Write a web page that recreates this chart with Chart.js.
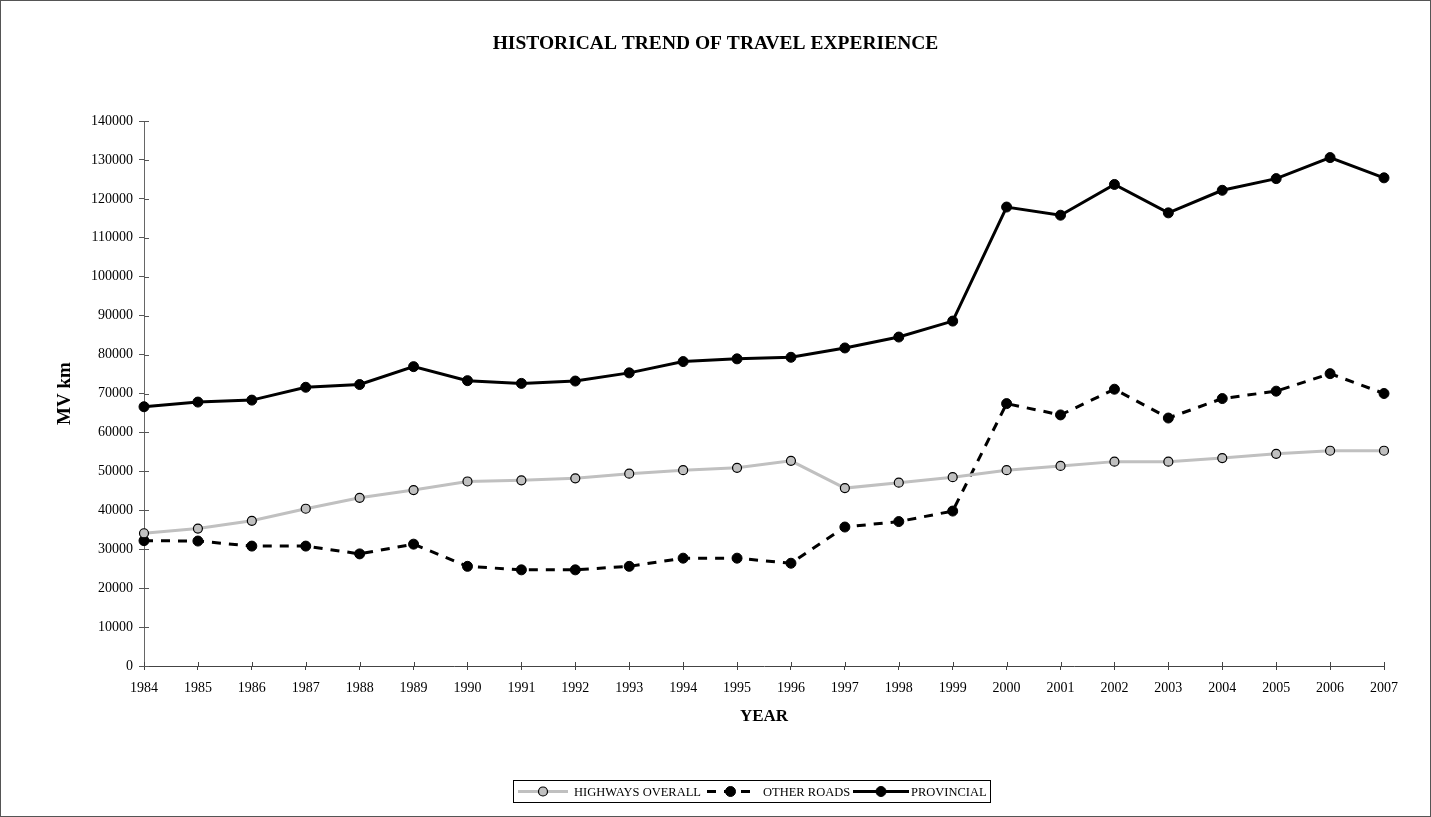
<!DOCTYPE html>
<html>
<head>
<meta charset="utf-8">
<title>Historical trend of travel experience</title>
<script src="https://cdn.jsdelivr.net/npm/chart.js@4.4.1/dist/chart.umd.min.js"></script>
<style>
  html, body { margin: 0; padding: 0; background: #fff; }
  canvas { display: block; }
</style>
</head>
<body>
<canvas id="travelChart" width="1431" height="817"></canvas>
<script>
// values (MV km)
const years = ['1984', '1985', '1986', '1987', '1988', '1989', '1990', '1991', '1992', '1993', '1994', '1995',
  '1996', '1997', '1998', '1999', '2000', '2001', '2002', '2003', '2004', '2005', '2006', '2007'];
const highwaysOverall = [34100, 35300, 37300, 40400, 43200, 45200, 47400, 47700, 48200, 49400, 50300, 50900,
  52700, 45700, 47100, 48500, 50300, 51400, 52500, 52500, 53400, 54500, 55300, 55300];
const otherRoads = [32200, 32100, 30800, 30800, 28800, 31300, 25600, 24700, 24700, 25600, 27700, 27700,
  26400, 35700, 37100, 39800, 67400, 64500, 71100, 63700, 68700, 70600, 75100, 70000];
const provincial = [66600, 67800, 68300, 71600, 72300, 76900, 73300, 72600, 73200, 75300, 78200, 78900,
  79300, 81700, 84500, 88600, 117900, 115800, 123700, 116400, 122200, 125200, 130600, 125400];
const yTicks = [0, 10000, 20000, 30000, 40000, 50000, 60000, 70000, 80000, 90000, 100000, 110000, 120000, 130000, 140000];

const serif = "'Liberation Serif', 'Times New Roman', serif";

// tick marks in the reference cross the axis: draw the inner half
const innerTicks = {
  id: 'innerTicks',
  afterDraw(chart) {
    const { ctx, scales: { x, y } } = chart;
    ctx.save();
    ctx.lineWidth = 1;
    ctx.strokeStyle = '#444';
    ctx.beginPath();
    x.ticks.forEach((t, i) => {
      const px = Math.round(x.getPixelForTick(i)) + 0.5;
      ctx.moveTo(px, x.top);
      ctx.lineTo(px, x.top - 4);
    });
    ctx.stroke();
    ctx.strokeStyle = '#555';
    ctx.beginPath();
    y.ticks.forEach((t, i) => {
      const py = Math.round(y.getPixelForTick(i)) + 0.5;
      ctx.moveTo(y.right, py);
      ctx.lineTo(y.right + 5, py);
    });
    ctx.stroke();
    ctx.restore();
  }
};

// frame round the whole picture + legend box at the bottom
const frameAndLegend = {
  id: 'frameAndLegend',
  afterDraw(chart) {
    const ctx = chart.ctx;
    ctx.save();
    ctx.strokeStyle = '#555';
    ctx.lineWidth = 1;
    ctx.strokeRect(0.5, 0.5, chart.width - 1, chart.height - 1);

    // legend
    const boxX = 513, boxY = 780, boxW = 477, boxH = 22;
    ctx.strokeStyle = '#000';
    ctx.strokeRect(boxX + 0.5, boxY + 0.5, boxW, boxH);
    const midY = boxY + boxH / 2 + 0.5;
    const items = [
      { lineFrom: 518, lineTo: 568, textX: 574 },
      { lineFrom: 707, lineTo: 754, textX: 763 },
      { lineFrom: 853, lineTo: 909, textX: 911 }
    ];
    ctx.font = '12.5px ' + serif;
    ctx.textBaseline = 'middle';
    ctx.textAlign = 'left';
    chart.data.datasets.forEach((ds, i) => {
      const it = items[i];
      ctx.beginPath();
      ctx.setLineDash(ds.borderDash || []);
      ctx.strokeStyle = ds.borderColor;
      ctx.lineWidth = ds.borderWidth;
      ctx.moveTo(it.lineFrom, midY);
      ctx.lineTo(it.lineTo, midY);
      ctx.stroke();
      ctx.setLineDash([]);
      ctx.beginPath();
      ctx.arc((it.lineFrom + it.lineTo) / 2, midY, ds.pointRadius, 0, Math.PI * 2);
      ctx.fillStyle = ds.pointBackgroundColor;
      ctx.fill();
      ctx.lineWidth = ds.pointBorderWidth;
      ctx.strokeStyle = ds.pointBorderColor;
      ctx.stroke();
      ctx.fillStyle = '#000';
      ctx.fillText(ds.label, it.textX, midY + 1);
    });
    ctx.restore();
  }
};

const ctx = document.getElementById('travelChart').getContext('2d');
new Chart(ctx, {
  type: 'line',
  data: {
    labels: years,
    datasets: [
      {
        label: 'HIGHWAYS OVERALL',
        data: highwaysOverall,
        borderColor: '#c0c0c0',
        borderWidth: 3,
        pointRadius: 4.5,
        pointBackgroundColor: '#c0c0c0',
        pointBorderColor: '#000',
        pointBorderWidth: 1.2,
        tension: 0
      },
      {
        label: 'OTHER ROADS',
        data: otherRoads,
        borderColor: '#000',
        borderWidth: 3,
        borderDash: [9, 8],
        pointRadius: 5,
        pointBackgroundColor: '#000',
        pointBorderColor: '#000',
        pointBorderWidth: 1,
        tension: 0
      },
      {
        label: 'PROVINCIAL',
        data: provincial,
        borderColor: '#000',
        borderWidth: 3,
        pointRadius: 5,
        pointBackgroundColor: '#000',
        pointBorderColor: '#000',
        pointBorderWidth: 1,
        tension: 0
      }
    ]
  },
  options: {
    responsive: false,
    animation: false,
    devicePixelRatio: 1,
    layout: { padding: 0 },
    plugins: {
      legend: { display: false },
      tooltip: { enabled: false },
      title: {
        display: true,
        text: 'HISTORICAL TREND OF TRAVEL EXPERIENCE',
        color: '#000',
        font: { family: serif, size: 19.5, weight: 'bold' },
        padding: { top: 32, bottom: 65.6 }
      }
    },
    scales: {
      x: {
        offset: false,
        afterFit(scale) { scale.height = 151; },
        grid: { drawOnChartArea: false, tickLength: 4, tickColor: '#444' },
        border: { color: '#444', width: 1 },
        ticks: {
          color: '#000',
          font: { family: serif, size: 14 },
          autoSkip: false,
          maxRotation: 0,
          padding: 10
        },
        title: {
          display: true,
          text: 'YEAR',
          color: '#000',
          font: { family: serif, size: 17, weight: 'bold' },
          padding: { top: 0, bottom: 90 }
        }
      },
      y: {
        min: 0,
        max: 140000,
        afterFit(scale) { scale.width = 144; },
        afterBuildTicks(scale) { scale.ticks = yTicks.map(v => ({ value: v })); },
        grid: { drawOnChartArea: false, tickLength: 5, tickColor: '#555' },
        border: { color: '#666', width: 1 },
        ticks: {
          color: '#000',
          font: { family: serif, size: 14 },
          padding: 6,
          callback: v => String(v)
        },
        title: {
          display: true,
          text: 'MV km',
          color: '#000',
          font: { family: serif, size: 19, weight: 'bold' },
          padding: { top: 53.5, bottom: 0 }
        }
      },
      // empty right-hand strip so the plot ends at 2007 like the reference
      yRight: {
        position: 'right',
        display: true,
        min: 0,
        max: 140000,
        afterFit(scale) { scale.width = 47; },
        grid: { display: false, drawTicks: false },
        border: { display: false },
        ticks: { display: false }
      }
    }
  },
  plugins: [innerTicks, frameAndLegend]
});
</script>
</body>
</html>
